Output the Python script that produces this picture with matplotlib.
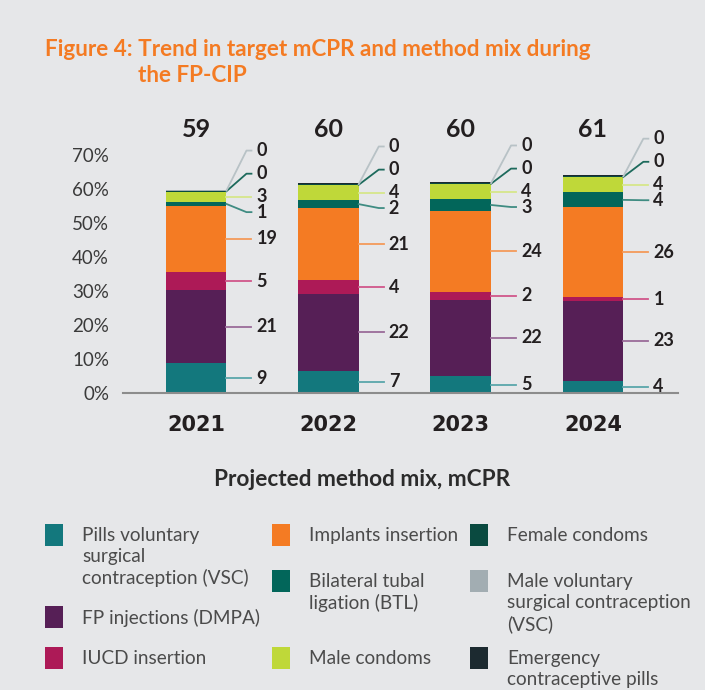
import matplotlib
matplotlib.use("Agg")
import matplotlib.pyplot as plt
from matplotlib.patches import Rectangle
import numpy as np

plt.rcParams['font.family'] = ['Lato', 'DejaVu Sans']

# ---- data (% of women) ----
years = ['2021', '2022', '2023', '2024']
totals = [59, 60, 60, 61]

series_names = ['Pills voluntary\nsurgical\ncontraception (VSC)',
                'FP injections (DMPA)',
                'IUCD insertion',
                'Implants insertion',
                'Bilateral tubal\nligation (BTL)',
                'Male condoms',
                'Female condoms',
                'Male voluntary\nsurgical contraception\n(VSC)',
                'Emergency\ncontraceptive pills']
pills_vsc = [8.8, 6.6, 5.0, 3.6]
fp_injections = [21.4, 22.4, 22.4, 23.4]
iucd = [5.4, 4.2, 2.4, 1.2]
implants = [19.4, 21.2, 23.8, 26.4]
btl = [1.2, 2.3, 3.4, 4.4]
male_condoms = [3.0, 4.4, 4.4, 4.4]
female_condoms = [0.3, 0.3, 0.3, 0.3]
male_vsc = [0.1, 0.1, 0.1, 0.1]
emergency = [0.2, 0.2, 0.2, 0.2]

colors = ['#13787d', '#561f56', '#ad1a57', '#f47b23', '#02665a',
          '#bfd839', '#0a4a40', '#a2adb2', '#1c2a30']
line_colors = ['#5aa6aa', '#9a6b99', '#d0568a', '#f49a5a', '#3f8c82',
               '#d6e68a', '#1d6a5c', '#b8c2c6', '#1c2a30']
labelled = [True, True, True, True, True, True, True, True, False]

stack = [pills_vsc, fp_injections, iucd, implants, btl, male_condoms,
         female_condoms, male_vsc, emergency]

bg = '#e6e7e9'
fig = plt.figure(figsize=(7.15, 6.9), dpi=100, facecolor=bg)
fig.patches.append(Rectangle((705 / 715, 0), 10 / 715, 1, transform=fig.transFigure,
                             facecolor='white', edgecolor='none', zorder=-1))

px = 3.4  # pixels per percentage point
ax = fig.add_axes([123 / 715, 297 / 690, 555 / 715, 82 * px / 690])
ax.set_facecolor(bg)
ax.set_xlim(-0.552, 3.643)
ax.set_ylim(0, 82)

x = np.arange(len(years))
width = 0.46
bottom = np.zeros(len(years))
bottoms = []
for vals, c in zip(stack, colors):
    bottoms.append(bottom.copy())
    ax.bar(x, vals, width, bottom=bottom, color=c, edgecolor='none', zorder=2)
    bottom += np.array(vals)

# value labels with leader lines
anchor = 5  # male condoms
gap_down, gap_up = 4.5, 6.8
xu = 1 / 132.3  # data units per pixel in x
for i in range(len(years)):
    centers = [bottoms[k][i] + stack[k][i] / 2 for k in range(len(stack))]
    ly = list(centers)
    for k in range(anchor - 1, -1, -1):
        ly[k] = min(centers[k], ly[k + 1] - gap_down)
    prev = anchor
    for k in range(anchor + 1, len(stack)):
        if labelled[k]:
            ly[k] = ly[prev] + gap_up
            prev = k
    xr = x[i] + width / 2
    for k in range(len(stack)):
        if not labelled[k]:
            continue
        ax.plot([xr, xr + 20 * xu, xr + 25 * xu], [centers[k], ly[k], ly[k]],
                color=line_colors[k], lw=1.3, zorder=3, clip_on=False)
        ax.text(xr + 30 * xu, ly[k], f'{round(stack[k][i])}', fontsize=13,
                fontweight='bold', color='#231f20', va='center', ha='left')
    ax.text(x[i], 77.5, str(totals[i]), fontsize=18, fontweight='bold',
            color='#231f20', ha='center', va='center')

ax.set_yticks(range(0, 80, 10))
ax.set_yticklabels([f'{t}%' for t in range(0, 80, 10)], fontsize=13.5, color='#3a3a3a')
ax.set_xticks(x)
ax.set_xticklabels(years, fontsize=15, fontweight='bold', color='#231f20',
                   family='DejaVu Sans')
ax.tick_params(axis='both', length=0)
ax.tick_params(axis='y', pad=10)
ax.tick_params(axis='x', pad=16)
for s in ['top', 'right', 'left']:
    ax.spines[s].set_visible(False)
ax.spines['bottom'].set_color('#8c8c8c')
ax.spines['bottom'].set_linewidth(1.5)

fig.text(362 / 715, 1 - 480 / 690, 'Projected method mix, mCPR', fontsize=16.3,
         fontweight='bold', color='#2b2b2b', ha='center', va='center')

# title
orange = '#f47b23'
fig.text(45 / 715, 1 - 50 / 690, 'Figure 4: Trend in target mCPR and method mix during',
         fontsize=16.2, fontweight='bold', color=orange, va='center')
fig.text(138 / 715, 1 - 75 / 690, 'the FP-CIP', fontsize=16.2, fontweight='bold',
         color=orange, va='center')

# legend: (column x of square, y of first text line centre) per series
leg_pos = [(45, 535), (45, 617), (45, 658), (272, 535), (272, 581), (272, 658),
           (470, 535), (470, 581), (470, 658)]
for name, c, (lx, lyy) in zip(series_names, colors, leg_pos):
    fig.patches.append(Rectangle((lx / 715, 1 - (lyy + 11) / 690), 18 / 715, 22 / 690,
                                 transform=fig.transFigure, facecolor=c,
                                 edgecolor='none'))
    fig.text((lx + 37) / 715, 1 - (lyy - 8) / 690, name, fontsize=13.7, color='#4b4b4b',
             va='top', ha='left', linespacing=1.27)

fig.savefig('out.png', dpi=100, facecolor=bg)
